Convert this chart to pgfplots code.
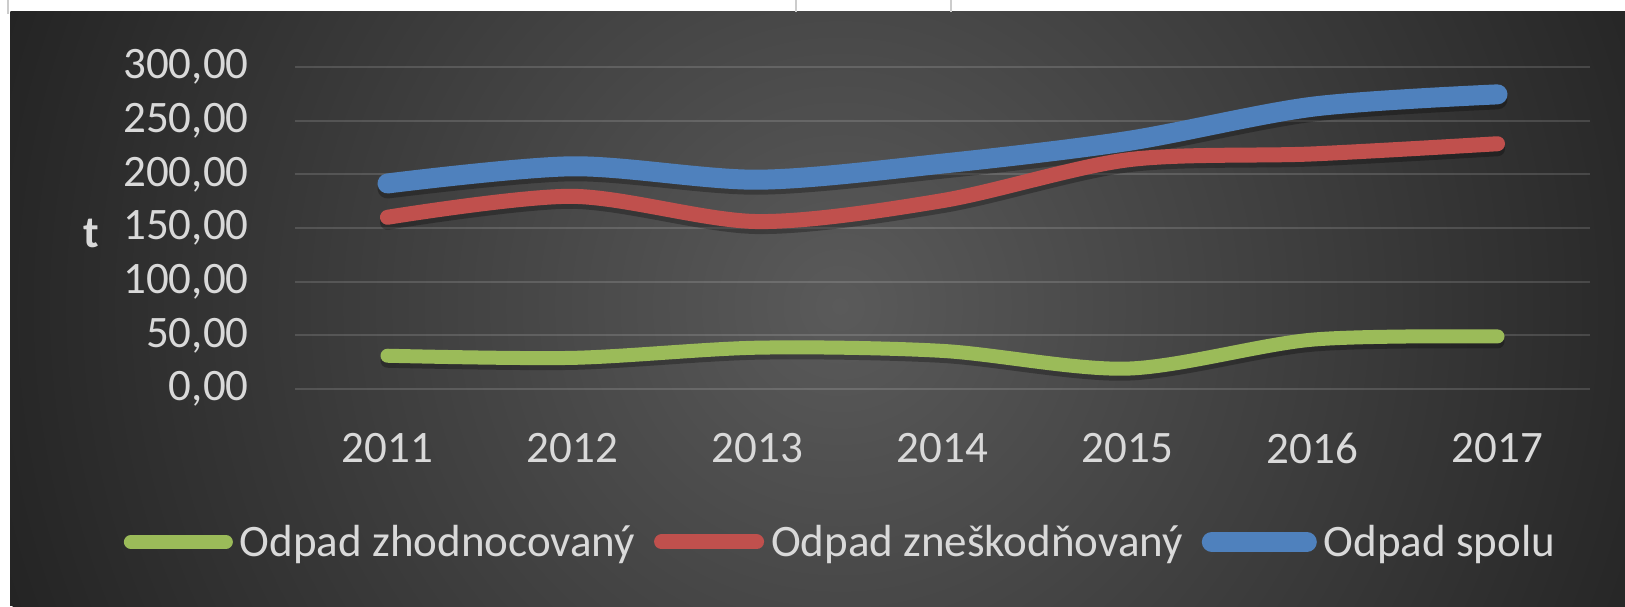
\documentclass[border=0pt]{standalone}
\usepackage{pgfplots}
\pgfplotsset{compat=1.18}
\usepackage{fontspec}
\setmainfont{Carlito}
\definecolor{zel}{HTML}{9BBB59}
\definecolor{cer}{HTML}{C0504D}
\definecolor{mod}{HTML}{4F81BD}
\definecolor{txt}{HTML}{D9D9D9}
\definecolor{bgin}{HTML}{5A5A5A}
\definecolor{bgout}{HTML}{242424}
\begin{document}
\begin{tikzpicture}[x=0.5pt,y=0.5pt]
\fill[white] (0,0) rectangle (1625,606);
\begin{scope}
\clip (10,0) rectangle (1625,594);
\fill[bgout] (10,0) rectangle (1625,594);
\shade[inner color=bgin, outer color=bgout] (840,300) circle (880);
\end{scope}
\draw[black!20, line width=1pt] (8,592) -- (8,606) (796,594)--(796,606) (951,594)--(951,606);
\begin{axis}[
  at={(147.5pt,108.5pt)}, anchor=south west,
  scale only axis, width=647.5pt, height=161pt,
  xmin=-0.5, xmax=6.5, ymin=0, ymax=300,
  clip=false,
  axis line style={draw=none},
  major tick length=0pt,
  xtick={0,1,2,3,4,5,6},
  xticklabels={2011,2012,2013,2014,2015,2016,2017},
  ytick={0,50,100,150,200,250,300},
  ymajorgrids,
  major grid style={white, opacity=0.14, line width=1.1pt},
  tick label style={font=\fontsize{22.5}{27}\selectfont, text=txt},
  /pgf/number format/assume math mode=true,
  /pgf/number format/fixed,
  /pgf/number format/fixed zerofill,
  /pgf/number format/precision=2,
  /pgf/number format/use comma,
  yticklabel style={anchor=east, inner sep=0pt, xshift=-23pt},
  xticklabel style={anchor=center, inner sep=0pt, yshift=-29.5pt},
  ylabel={\textbf{t}},
  ylabel style={at={(axis description cs:-0.1575,0.484)}, anchor=center, rotate=-90, font=\fontsize{22.5}{27}\selectfont, text=txt},
  legend columns=3,
  legend cell align=left,
  legend image code/.code={\draw[#1, line cap=round] (0pt,0pt) -- (47.5pt,0pt);},
  legend style={at={(axis description cs:0.4205,-0.475)}, anchor=center, draw=none, fill=none, inner sep=0pt,
    font=\fontsize{22.5}{27}\selectfont, text=txt, nodes={inner sep=0pt},
    /tikz/every odd column/.style={column sep=3.5pt},
    /tikz/every even column/.style={column sep=9.5pt}},
]
% shadows
\addplot[forget plot, smooth, black, opacity=0.28, line width=7pt, line cap=round, yshift=-2.5pt]
  coordinates {(0,31) (1,29) (2,38.5) (3,35.5) (4,19) (5,46) (6,49)};
\addplot[forget plot, smooth, black, opacity=0.28, line width=7.5pt, line cap=round, yshift=-2.5pt]
  coordinates {(0,160) (1,179.5) (2,156) (3,175.5) (4,213.5) (5,219) (6,228.5)};
\addplot[forget plot, smooth, black, opacity=0.28, line width=10pt, line cap=round, yshift=-2.5pt]
  coordinates {(0,191.5) (1,207.5) (2,195) (3,210) (4,231) (5,263) (6,274.5)};
% series
\addplot[smooth, zel, line width=7pt, line cap=round]
  coordinates {(0,31) (1,29) (2,38.5) (3,35.5) (4,19) (5,46) (6,49)};
\addlegendentry{Odpad zhodnocovaný}
\addplot[smooth, cer, line width=7.5pt, line cap=round]
  coordinates {(0,160) (1,179.5) (2,156) (3,175.5) (4,213.5) (5,219) (6,228.5)};
\addlegendentry{Odpad zneškodňovaný}
\addplot[smooth, mod, line width=10pt, line cap=round]
  coordinates {(0,191.5) (1,207.5) (2,195) (3,210) (4,231) (5,263) (6,274.5)};
\addlegendentry{Odpad spolu}
\end{axis}
\pgfresetboundingbox
\path[use as bounding box] (0,0) rectangle (1625,606);
\end{tikzpicture}
\end{document}
